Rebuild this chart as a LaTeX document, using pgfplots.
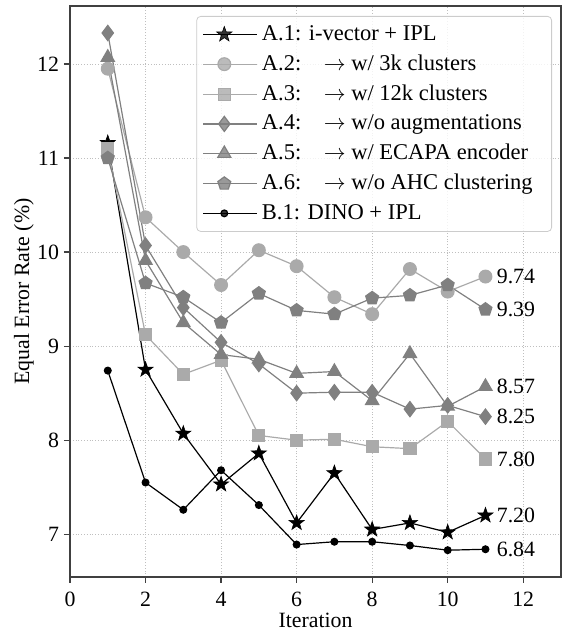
\documentclass[border=0pt,11pt]{standalone}
\usepackage{fontspec}
\setmainfont{Liberation Serif}
\usepackage{pgfplots}
\pgfplotsset{compat=1.18}
\usetikzlibrary{calc}

\definecolor{lgray}{HTML}{AAAAAA}
\definecolor{mgray}{HTML}{808080}

% filled five-pointed star
\pgfdeclareplotmark{fstar}{%
  \pgfpathmoveto{\pgfpointpolar{90}{\pgfplotmarksize}}%
  \pgfpathlineto{\pgfpointpolar{126}{0.4\pgfplotmarksize}}%
  \pgfpathlineto{\pgfpointpolar{162}{\pgfplotmarksize}}%
  \pgfpathlineto{\pgfpointpolar{198}{0.4\pgfplotmarksize}}%
  \pgfpathlineto{\pgfpointpolar{234}{\pgfplotmarksize}}%
  \pgfpathlineto{\pgfpointpolar{270}{0.4\pgfplotmarksize}}%
  \pgfpathlineto{\pgfpointpolar{306}{\pgfplotmarksize}}%
  \pgfpathlineto{\pgfpointpolar{342}{0.4\pgfplotmarksize}}%
  \pgfpathlineto{\pgfpointpolar{18}{\pgfplotmarksize}}%
  \pgfpathlineto{\pgfpointpolar{54}{0.4\pgfplotmarksize}}%
  \pgfpathclose
  \pgfusepathqfillstroke
}

\begin{document}
\begin{tikzpicture}
\begin{axis}[
  width=245.5bp, height=285.5bp, scale only axis,
  xmin=0, xmax=13, ymin=6.545, ymax=12.617,
  xtick={0,2,...,12}, ytick={7,8,...,12},
  /pgf/number format/assume math mode=true,
  tick align=outside, tick pos=left,
  major tick length=3bp,
  axis line style={draw=black!75, line width=0.7pt},
  every tick/.style={black!75, line width=0.6pt},
  grid=major,
  major grid style={densely dotted, black!25, line width=0.4pt},
  xticklabel style={yshift=-0.5bp},
  yticklabel style={inner xsep=2.3bp},
  xlabel={Iteration}, ylabel={Equal Error Rate (\%)},
  every axis x label/.style={at={(rel axis cs:0.5,0)}, anchor=base, yshift=-25bp, inner sep=0pt},
  every axis y label/.style={at={(rel axis cs:0,0.5)}, anchor=center, rotate=90, yshift=23bp, inner sep=0pt},
  legend style={at={(1,1)}, anchor=north east, xshift=-4.5bp, yshift=-5bp,
    draw=black!20, rounded corners=2pt, fill=white, fill opacity=0.8,
    text opacity=1, row sep=1.6pt, inner xsep=3bp, inner ysep=2.5bp,
    font=\fontsize{11.3}{13.6}\selectfont},
  legend cell align=left,
  legend image code/.code={
    \draw[mark repeat=2, mark phase=2] plot coordinates {(0bp,0bp) (10.5bp,0bp) (21bp,0bp)};
    \path (21bp,0bp) -- (27bp,0bp);
  },
  every axis plot/.append style={line width=0.6pt},
  clip=false,
]

% A.1: i-vector + IPL
\addplot[black, mark=fstar, mark options={fill=black, mark size=4pt, line width=0.3pt}] coordinates {
  (1,11.16) (2,8.75) (3,8.07) (4,7.53) (5,7.86) (6,7.12)
  (7,7.65) (8,7.05) (9,7.12) (10,7.02) (11,7.20)
};
\addlegendentry{A.1: i-vector + IPL\hspace*{4.5bp}}

% A.2: 3k clusters
\addplot[lgray, mark=*, mark options={fill=lgray, draw=lgray, mark size=3.2pt}] coordinates {
  (1,11.95) (2,10.37) (3,10.00) (4,9.65) (5,10.02) (6,9.85)
  (7,9.52) (8,9.34) (9,9.82) (10,9.58) (11,9.74)
};
\addlegendentry{A.2:\quad$\rightarrow$ w/ 3k clusters}

% A.3: 12k clusters
\addplot[lgray, mark=square*, mark options={fill=lgray, draw=lgray, mark size=3.0pt}] coordinates {
  (1,11.10) (2,9.12) (3,8.70) (4,8.85) (5,8.05) (6,8.00)
  (7,8.01) (8,7.93) (9,7.91) (10,8.20) (11,7.80)
};
\addlegendentry{A.3:\quad$\rightarrow$ w/ 12k clusters}

% A.4: no augmentations
\addplot[mgray, mark=diamond*, mark options={fill=mgray, draw=mgray, mark size=3.8pt}] coordinates {
  (1,12.33) (2,10.07) (3,9.41) (4,9.04) (5,8.81) (6,8.50)
  (7,8.51) (8,8.51) (9,8.33) (10,8.37) (11,8.25)
};
\addlegendentry{A.4:\quad$\rightarrow$ w/o augmentations}

% A.5: ECAPA encoder
\addplot[mgray, mark=triangle*, mark options={fill=mgray, draw=mgray, mark size=3.8pt}] coordinates {
  (1,12.07) (2,9.91) (3,9.25) (4,8.91) (5,8.86) (6,8.71)
  (7,8.73) (8,8.42) (9,8.92) (10,8.36) (11,8.57)
};
\addlegendentry{A.5:\quad$\rightarrow$ w/ ECAPA encoder}

% A.6: no AHC clustering
\addplot[mgray, mark=pentagon*, mark options={fill=mgray, draw=mgray, mark size=3.4pt}] coordinates {
  (1,11.00) (2,9.67) (3,9.52) (4,9.25) (5,9.56) (6,9.38)
  (7,9.34) (8,9.51) (9,9.54) (10,9.65) (11,9.39)
};
\addlegendentry{A.6:\quad$\rightarrow$ w/o AHC clustering\hspace*{4.5bp}}

% B.1: DINO + IPL
\addplot[black, mark=*, mark options={fill=black, mark size=1.7pt}] coordinates {
  (1,8.74) (2,7.55) (3,7.26) (4,7.68) (5,7.31) (6,6.89)
  (7,6.92) (8,6.92) (9,6.88) (10,6.83) (11,6.84)
};
\addlegendentry{B.1: DINO + IPL}

% final values
\node[anchor=west, inner sep=0pt, xshift=5.5bp] at (axis cs:11,9.74) {9.74};
\node[anchor=west, inner sep=0pt, xshift=5.5bp] at (axis cs:11,9.39) {9.39};
\node[anchor=west, inner sep=0pt, xshift=5.5bp] at (axis cs:11,8.57) {8.57};
\node[anchor=west, inner sep=0pt, xshift=5.5bp] at (axis cs:11,8.25) {8.25};
\node[anchor=west, inner sep=0pt, xshift=5.5bp] at (axis cs:11,7.80) {7.80};
\node[anchor=west, inner sep=0pt, xshift=5.5bp] at (axis cs:11,7.20) {7.20};
\node[anchor=west, inner sep=0pt, xshift=5.5bp] at (axis cs:11,6.84) {6.84};

% page margins around the axis box
\path ($(rel axis cs:0,0)+(-35bp,-26.5bp)$) rectangle ($(rel axis cs:1,1)+(0.5bp,3bp)$);
\end{axis}
\end{tikzpicture}
\end{document}
